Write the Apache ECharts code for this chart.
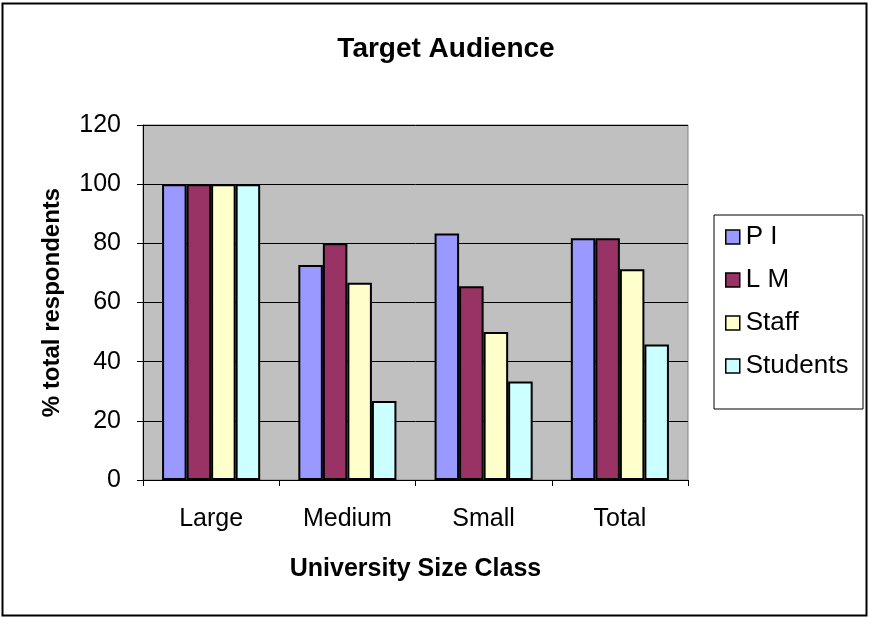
<!DOCTYPE html>
<html>
<head>
<meta charset="utf-8">
<script src="https://cdn.jsdelivr.net/npm/echarts@6/dist/echarts.min.js"></script>
<style>
html,body{margin:0;padding:0;background:#fff;}
#chart{width:870px;height:618px;}
</style>
</head>
<body>
<div id="chart"></div>
<script>
const categories = ['Large', 'Medium', 'Small', 'Total'];
const seriesNames = ['P I', 'L M', 'Staff', 'Students'];
const valuesPI = [100, 72.7, 83.3, 81.7];
const valuesLM = [100, 80, 65.5, 81.7];
const valuesStaff = [100, 66.7, 50, 71.2];
const valuesStudents = [100, 26.7, 33.3, 45.8];
const yTicks = [0, 20, 40, 60, 80, 100, 120];

const colors = ['#9999FF', '#993366', '#FFFFCC', '#CCFFFF'];
const allValues = [valuesPI, valuesLM, valuesStaff, valuesStudents];
const FONT = '"Liberation Sans", Arial, sans-serif';

const chart = echarts.init(document.getElementById('chart'));
chart.setOption({
  animation: false,
  backgroundColor: '#fff',
  title: {
    text: 'Target Audience',
    left: 441, top: 30, textAlign: 'center',
    textStyle: { fontFamily: FONT, fontSize: 28, fontWeight: 'bold', color: '#000' }
  },
  grid: {
    left: 143, top: 125, right: 182, bottom: 138,
    show: true, backgroundColor: '#C0C0C0', borderColor: '#808080', borderWidth: 1
  },
  legend: {
    orient: 'vertical', left: 725, top: 224, padding: 0, itemGap: 17,
    icon: 'rect', itemWidth: 14, itemHeight: 14,
    itemStyle: { borderColor: '#000', borderWidth: 1.5 },
    textStyle: { fontFamily: FONT, fontSize: 26, color: '#000', padding: [0, 0, 0, 1] },
    data: seriesNames
  },
  xAxis: {
    type: 'category', data: categories,
    name: 'University Size Class', nameLocation: 'middle', nameGap: 77,
    nameTextStyle: { fontFamily: FONT, fontSize: 25, fontWeight: 'bold', color: '#000' },
    axisLine: { lineStyle: { color: '#000', width: 1 } },
    axisTick: { show: true, length: 6, lineStyle: { color: '#000' } },
    axisLabel: { fontFamily: FONT, fontSize: 25, color: '#000', margin: 27 },
    splitLine: { show: false }
  },
  yAxis: {
    type: 'value', min: yTicks[0], max: yTicks[yTicks.length - 1], interval: 20,
    name: '% total respondents', nameLocation: 'middle', nameGap: 79, nameRotate: 90,
    nameTextStyle: { fontFamily: FONT, fontSize: 24, fontWeight: 'bold', color: '#000' },
    axisLine: { show: true, lineStyle: { color: '#000', width: 1 } },
    axisTick: { show: true, length: 6, lineStyle: { color: '#000' } },
    axisLabel: { fontFamily: FONT, fontSize: 25, color: '#000', margin: 22 },
    splitLine: { show: true, lineStyle: { color: '#000', width: 1 } }
  },
  graphic: [
    { type: 'rect', shape: { x: 714, y: 215, width: 149, height: 194 }, style: { fill: 'none', stroke: '#000', lineWidth: 1 }, z: 0 },
    { type: 'rect', shape: { x: 2.5, y: 3.5, width: 864, height: 612 }, style: { fill: 'none', stroke: '#000', lineWidth: 2 }, z: 0 }
  ],
  series: seriesNames.map((n, i) => ({
    name: n, type: 'bar', data: allValues[i],
    barGap: '0%', barCategoryGap: '28%',
    itemStyle: { color: colors[i], borderColor: '#000', borderWidth: 2 }
  }))
});
</script>
</body>
</html>
